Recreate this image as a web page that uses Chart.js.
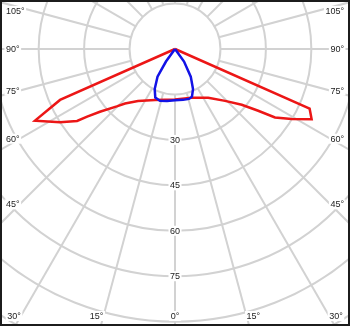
<!DOCTYPE html>
<html>
<head>
<meta charset="utf-8">
<script src="https://cdn.jsdelivr.net/npm/chart.js@4/dist/chart.umd.min.js"></script>
<style>
html,body{margin:0;padding:0;background:#fff;overflow:hidden}
canvas{display:block}
</style>
</head>
<body>
<canvas id="c" width="350" height="326"></canvas>
<script>
// Polar light distribution: gamma angle in degrees from nadir (negative = left half), intensity values
const redGamma  = [-180, -67, -66.1, -62.9, -57.5, -53.7, -52.4, -50.1, -45.4, -42.5, -35.4, -21.4, 0, 18.9, 34.2, 44.0, 50.1, 53.4, 55.6, 59.0, 62.8, 66.1, 67, 180];
const redValues = [0, 0, 41.5, 51.9, 45.0, 40.1, 36.6, 32.3, 27.0, 24.4, 21.1, 18.1, 16.7, 17.0, 19.5, 23.8, 28.7, 34.2, 40.0, 44.9, 50.7, 48.6, 0, 0];

const blueGamma  = [-180, -40, -35.8, -32.3, -26.9, -22.1, -16.2, -8.7, 0, 9.0, 15.6, 19.6, 24.2, 29.7, 35.8, 40, 180];
const blueValues = [0, 0, 5.1, 10.8, 14.8, 17.3, 17.8, 17.4, 16.9, 17.0, 17.1, 16.7, 14.5, 10.5, 5.1, 0, 0];

// Grid / tick definitions
const ringValues  = [15, 30, 45, 60, 75, 90, 105, 120];
const ringLabels  = [30, 45, 60, 75];
const spokeAngles = [0, 15, 30, 45, 60, 75, 90, 105, 120, 135, 150, 165, 180, 195, 210, 225, 240, 255, 270, 285, 300, 315, 330, 345];
const angleLabels = [0, 15, 30, 45, 60, 75, 90, 105];

// view extent (value units) so that the pole sits near the top centre
const VIEW = { xMin: -57.76, xMax: 57.76, yMin: -91.42, yMax: 16.17 };

function toXY(gammas, values) {
  return gammas.map((g, i) => {
    const a = g * Math.PI / 180;
    return { x: values[i] * Math.sin(a), y: -values[i] * Math.cos(a) };
  });
}

const FONT = '9px "Liberation Sans", Arial, sans-serif';
const GRID = '#d2d2d2';
const TEXT = '#222';

const polarGrid = {
  id: 'polarGrid',
  beforeDatasetsDraw(chart) {
    const { ctx, chartArea: a, scales: { x, y } } = chart;
    const cx = x.getPixelForValue(0), cy = y.getPixelForValue(0);
    const k = x.getPixelForValue(1) - cx;
    ctx.save();
    ctx.beginPath();
    ctx.rect(a.left, a.top, a.right - a.left, a.bottom - a.top);
    ctx.clip();
    ctx.strokeStyle = GRID;
    ctx.lineWidth = 2;
    ringValues.forEach(v => {
      ctx.beginPath();
      ctx.arc(cx, cy, v * k, 0, Math.PI * 2);
      ctx.stroke();
    });
    const inner = ringValues[0];
    spokeAngles.forEach(g => {
      const r = g * Math.PI / 180;
      const dx = Math.sin(r), dy = Math.cos(r);
      ctx.beginPath();
      ctx.moveTo(cx + dx * inner * k, cy + dy * inner * k);
      ctx.lineTo(cx + dx * 200 * k, cy + dy * 200 * k);
      ctx.stroke();
    });

    ctx.font = FONT;
    ctx.textBaseline = 'middle';
    function label(t, px, py, align) {
      const w = ctx.measureText(t).width;
      let left = align === 'left' ? px : align === 'right' ? px - w : px - w / 2;
      ctx.fillStyle = '#fff';
      ctx.fillRect(left - 1.5, py - 5, w + 3, 10);
      ctx.fillStyle = TEXT;
      ctx.textAlign = align;
      ctx.fillText(t, px, py + 0.5);
    }
    // ring value labels along the nadir spoke
    ringLabels.forEach(v => label(String(v), cx, cy + v * k, 'center'));

    // angle labels at the frame
    const leftX = a.left + 6, rightX = a.right - 6, bottomY = a.bottom - 10, topY = a.top + 11;
    angleLabels.forEach(g => {
      const t = g + '\u00B0';
      const w = ctx.measureText(t).width;
      const r = g * Math.PI / 180;
      if (g === 0) { label(t, cx, bottomY, 'center'); return; }
      [-1, 1].forEach(s => {
        const dx = s * Math.sin(r), dy = Math.cos(r);
        const edgeX = s < 0 ? leftX + w : rightX - w;
        const tt = (edgeX - cx) / dx;
        let yy = cy + dy * tt;
        if (yy > bottomY) {
          const tb = (bottomY - cy) / dy;
          const xx = cx + dx * tb;
          label(t, xx, bottomY, s < 0 ? 'right' : 'left');
        } else {
          yy = Math.max(yy, topY);
          label(t, s < 0 ? leftX : rightX, yy, s < 0 ? 'left' : 'right');
        }
      });
    });
    ctx.restore();
  },
  afterDraw(chart) {
    const { ctx } = chart;
    ctx.save();
    ctx.strokeStyle = '#1c1c1c';
    ctx.lineWidth = 2;
    ctx.strokeRect(1, 1, chart.width - 2, chart.height - 2);
    ctx.restore();
  }
};

new Chart(document.getElementById('c'), {
  type: 'scatter',
  data: {
    datasets: [
      { label: 'C0-C180', data: toXY(blueGamma, blueValues), showLine: true, borderColor: 'rgb(18,18,230)', borderWidth: 2.5, pointRadius: 0, fill: false, tension: 0 },
      { label: 'C90-C270', data: toXY(redGamma, redValues), showLine: true, borderColor: 'rgb(236,22,22)', borderWidth: 2.5, pointRadius: 0, fill: false, tension: 0 }
    ]
  },
  options: {
    responsive: false,
    animation: false,
    events: [],
    layout: { padding: 0 },
    plugins: { legend: { display: false }, tooltip: { enabled: false } },
    scales: {
      x: { type: 'linear', display: false, min: VIEW.xMin, max: VIEW.xMax },
      y: { type: 'linear', display: false, min: VIEW.yMin, max: VIEW.yMax }
    }
  },
  plugins: [polarGrid]
});
</script>
</body>
</html>
